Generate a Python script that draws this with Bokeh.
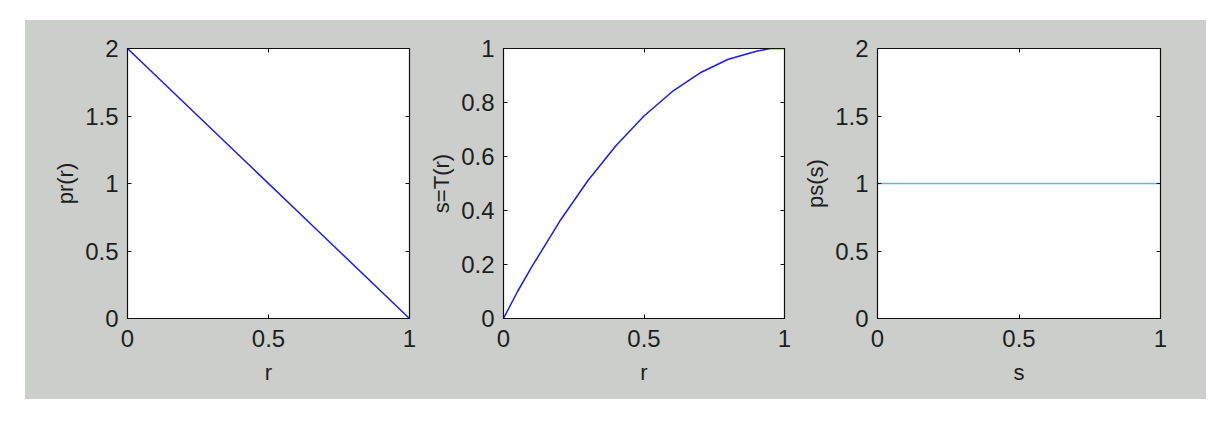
from bokeh.plotting import figure
from bokeh.layouts import row, column
from bokeh.models import Range1d, FixedTicker, LinearAxis, NumeralTickFormatter, Spacer
from bokeh.embed import file_html
from bokeh.resources import INLINE

# ---- data ----
r1 = [0.0, 0.05, 0.25, 0.35, 0.65, 0.75, 0.95, 1.0]
pr = [2.0, 1.9, 1.5, 1.3, 0.7, 0.5, 0.1, 0.0]

r2 = [0.0, 0.05, 0.1, 0.2, 0.3, 0.4, 0.5, 0.6, 0.7, 0.8, 0.9, 0.95, 1.0]
sT = [0.0, 0.10, 0.19, 0.36, 0.51, 0.64, 0.75, 0.84, 0.91, 0.96, 0.99, 1.0, 1.0]

s3 = [0.0, 1.0]
ps = [1.0, 1.0]

x_ticks = [0, 0.5, 1]
y_ticks_a = [0, 0.5, 1, 1.5, 2]
y_ticks_b = [0, 0.2, 0.4, 0.6, 0.8, 1]

BG = "#CCCECB"
TXT = "#1e1e1e"
FONT = "Liberation Sans"


def make(width, bl, br, ymax, yticks, xlabel, ylabel, xs, ys, color):
    p = figure(width=width, height=379, output_backend="svg", toolbar_location=None,
               x_range=Range1d(0, 1), y_range=Range1d(0, ymax),
               min_border_left=bl, min_border_right=br, min_border_top=28, min_border_bottom=81,
               x_axis_label=xlabel, y_axis_label=ylabel)
    p.border_fill_color = BG
    p.background_fill_color = "white"
    p.outline_line_color = "#111111"
    p.outline_line_width = 1.2
    p.grid.visible = False
    p.xaxis.ticker = FixedTicker(ticks=x_ticks)
    p.yaxis.ticker = FixedTicker(ticks=yticks)
    for ax in p.xaxis + p.yaxis:
        ax.formatter = NumeralTickFormatter(format="0.[0]")
        ax.major_tick_in = 4
        ax.major_tick_out = 0
        ax.minor_tick_line_color = None
        ax.axis_line_color = "#111111"
        ax.major_tick_line_color = "#111111"
        ax.major_label_text_font = FONT
        ax.major_label_text_font_size = "24px"
        ax.major_label_text_color = TXT
        ax.axis_label_text_font = FONT
        ax.axis_label_text_font_size = "22px"
        ax.axis_label_text_font_style = "normal"
        ax.axis_label_text_color = TXT
    for ax in p.xaxis:
        ax.major_label_standoff = 11
        ax.axis_label_standoff = 10
    for ax in p.yaxis:
        ax.major_label_standoff = 9
        ax.axis_label_standoff = 4
    # mirrored ticks on top and right (no labels drawn)
    top = LinearAxis(ticker=FixedTicker(ticks=x_ticks), major_tick_in=4, major_tick_out=0,
                     minor_tick_line_color=None, major_label_text_color=None,
                     major_label_text_font_size="0px",
                     major_label_standoff=0, axis_line_color="#111111",
                     major_tick_line_color="#111111")
    right = LinearAxis(ticker=FixedTicker(ticks=yticks), major_tick_in=4, major_tick_out=0,
                       minor_tick_line_color=None, major_label_text_color=None,
                       major_label_text_font_size="0px",
                       major_label_standoff=0, axis_line_color="#111111",
                       major_tick_line_color="#111111")
    p.add_layout(top, "above")
    p.add_layout(right, "right")
    p.line(xs, ys, line_color=color, line_width=1.5)
    return p


p1 = make(396, 102, 12, 2, y_ticks_a, "r", "pr(r)", r1, pr, "#1a1aff")
p2 = make(373, 82, 10, 1, y_ticks_b, "r", "s=T(r)", r2, sT, "#1a1aff")
p3 = make(412, 83, 46, 2, y_ticks_a, "s", "ps(s)", s3, ps, "#4cc4c8")

inner = row(p1, p2, p3, spacing=0, styles={"background-color": BG})
layout = column(Spacer(width=10, height=20),
                row(Spacer(width=25, height=10), inner, spacing=0),
                spacing=0)

open("out.html", "w").write(file_html(layout, INLINE))
